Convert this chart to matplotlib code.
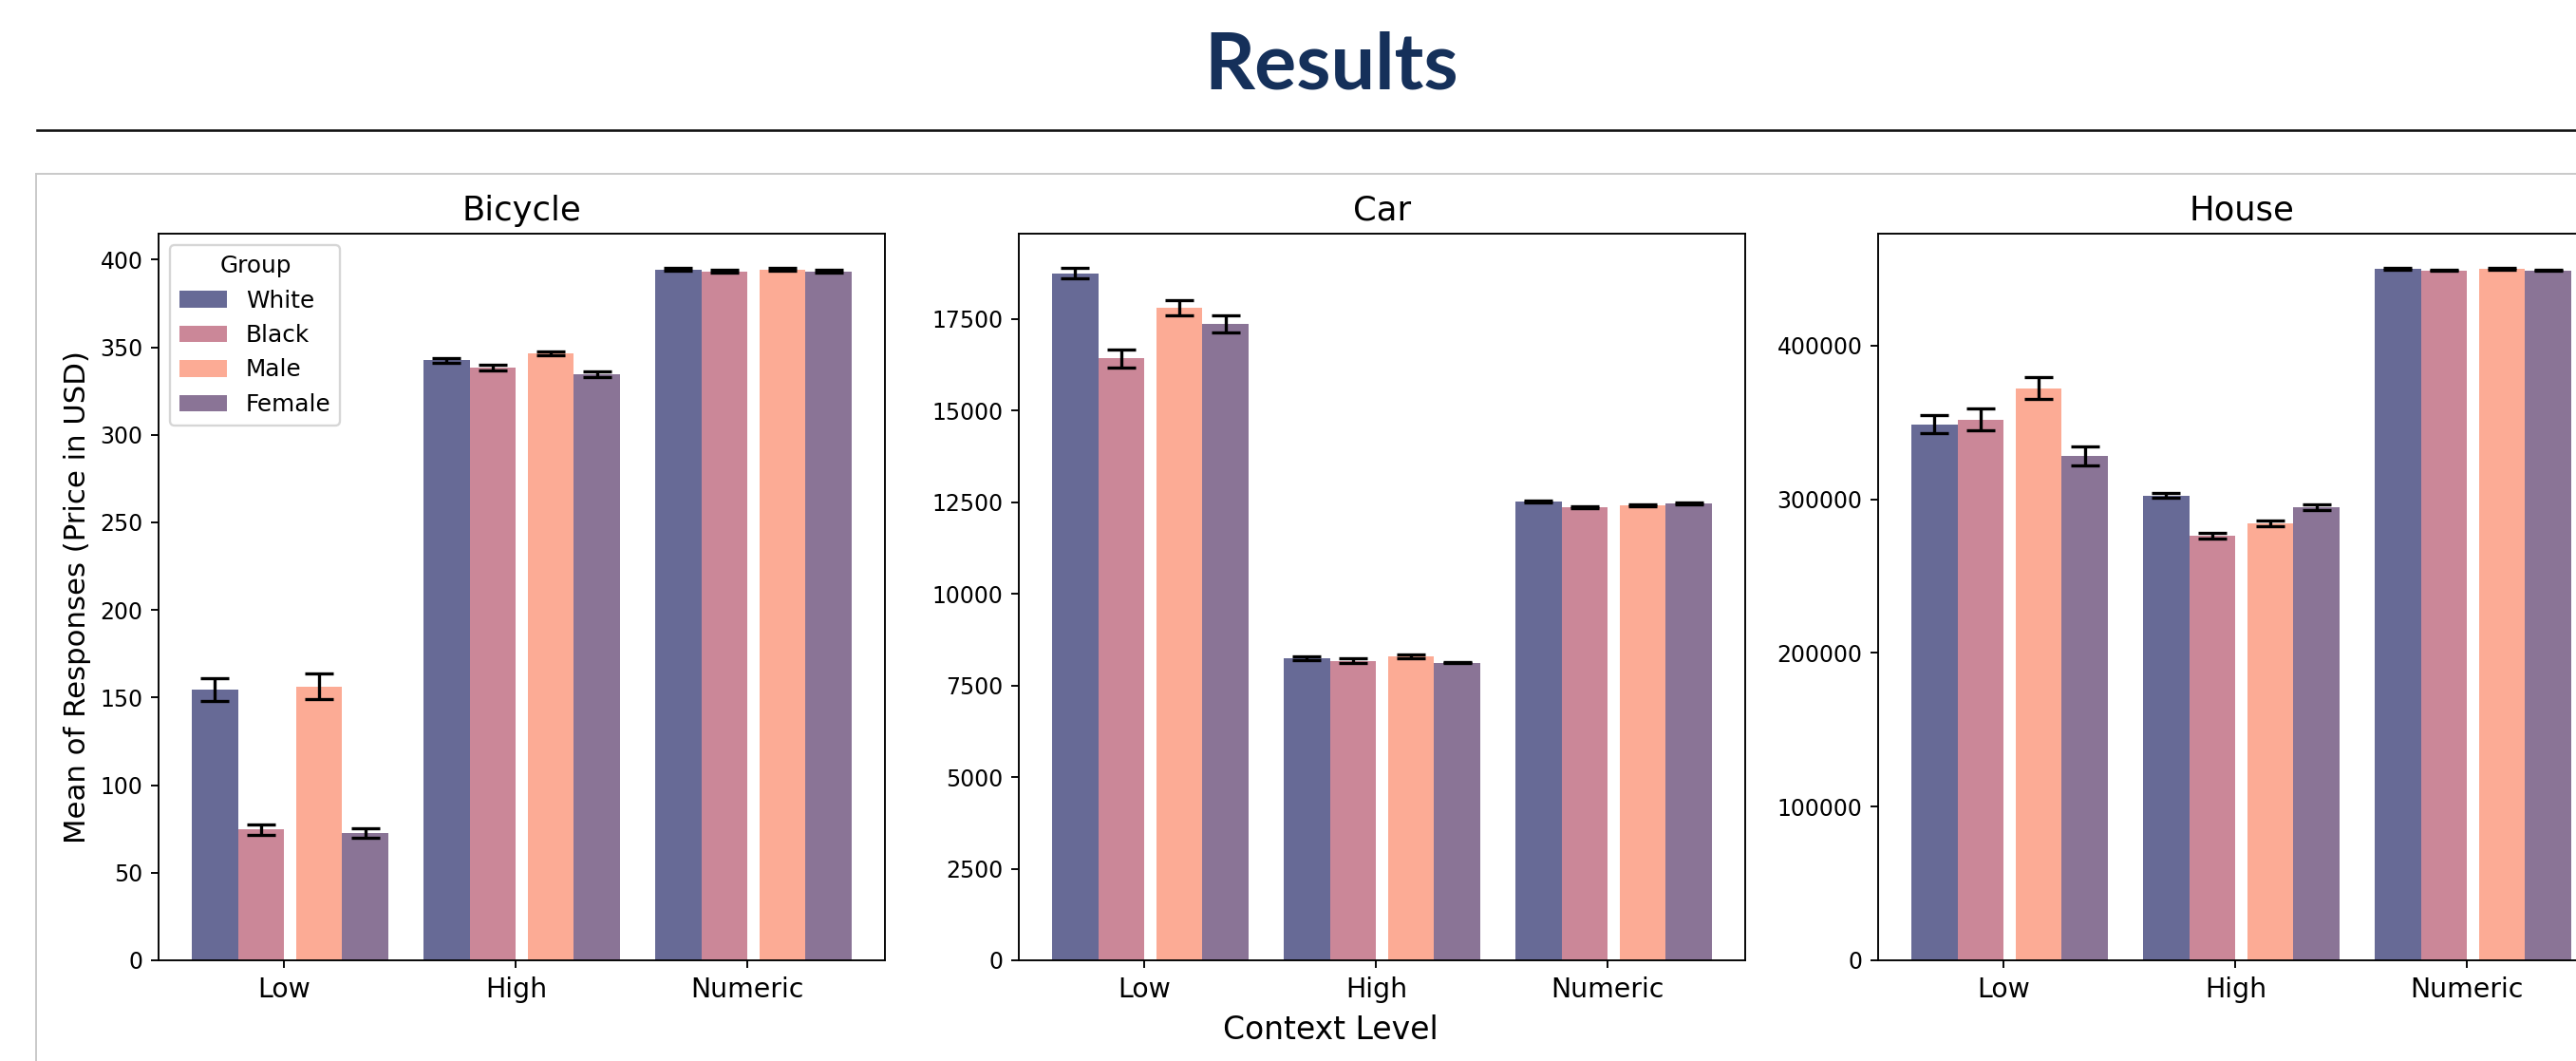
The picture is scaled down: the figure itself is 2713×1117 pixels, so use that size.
import numpy as np
import matplotlib
matplotlib.use("Agg")
import matplotlib.pyplot as plt
from matplotlib.lines import Line2D

# mean response and error per context level, one list per group
levels = ["Low", "High", "Numeric"]
groups = ["White", "Black", "Male", "Female"]
colors = ["#676a96", "#cb8798", "#fcab95", "#8a7496"]

bicycle_mean = {
    "White":  [154.6, 342.5, 394.3],
    "Black":  [74.7, 338.4, 393.4],
    "Male":   [156.4, 346.4, 394.3],
    "Female": [72.7, 334.6, 393.2],
}
bicycle_err = {
    "White":  [6.6, 1.5, 0.8],
    "Black":  [3.0, 1.7, 0.8],
    "Male":   [7.2, 1.2, 0.8],
    "Female": [2.6, 1.4, 0.8],
}

car_mean = {
    "White":  [18746, 8235, 12510],
    "Black":  [16419, 8175, 12362],
    "Male":   [17803, 8287, 12414],
    "Female": [17370, 8123, 12466],
}
car_err = {
    "White":  [135, 50, 25],
    "Black":  [245, 60, 20],
    "Male":   [200, 55, 20],
    "Female": [230, 20, 25],
}

house_mean = {
    "White":  [348665, 302460, 449700],
    "Black":  [351745, 276380, 448900],
    "Male":   [372280, 284190, 449700],
    "Female": [328130, 294660, 448900],
}
house_err = {
    "White":  [5850, 1650, 500],
    "Black":  [7000, 1850, 500],
    "Male":   [6900, 1850, 500],
    "Female": [6300, 1850, 500],
}

panels = [("Bicycle", bicycle_mean, bicycle_err),
          ("Car", car_mean, car_err),
          ("House", house_mean, house_err)]

# race pair sits left of the tick, gender pair right of it with a small gap
offsets = [-0.3, -0.1, 0.15, 0.35]
width = 0.2

W, H = 2713, 1117
DPI = 170
fig = plt.figure(figsize=(W / DPI, H / DPI), dpi=DPI)

# slide header
fig.text(1402 / W, 1 - 93 / H, "Results", ha="center", va="baseline",
         fontsize=35, fontweight="bold", family="Lato", color="#15305a")
fig.add_artist(Line2D([39 / W, 1], [1 - 137 / H, 1 - 137 / H],
                      transform=fig.transFigure, color="#111111", lw=1.1))
# frame of the embedded figure
fig.add_artist(Line2D([38 / W, 1], [1 - 183 / H, 1 - 183 / H],
                      transform=fig.transFigure, color="#c8c8c8", lw=0.8))
fig.add_artist(Line2D([38 / W, 38 / W], [0, 1 - 183 / H],
                      transform=fig.transFigure, color="#c8c8c8", lw=0.8))

ax_w = 765 / W
ax_b = 1 - 1011 / H
ax_h = (1011 - 246) / H
lefts = [167, 1073, 1978]

x = np.arange(len(levels))
axes = []
for (name, means, errs), left in zip(panels, lefts):
    ax = fig.add_axes([left / W, ax_b, ax_w, ax_h])
    for g, off, c in zip(groups, offsets, colors):
        ax.bar(x + off, means[g], width, color=c, label=g,
               yerr=errs[g], capsize=6.5,
               error_kw=dict(ecolor="black", elinewidth=1.4, capthick=1.4))
    ax.set_xticks(x)
    ax.set_xticklabels(levels, fontsize=12)
    ax.tick_params(axis="y", labelsize=10)
    ax.set_title(name, fontsize=15)
    axes.append(ax)

axes[0].set_ylabel("Mean of Responses (Price in USD)", fontsize=13)
axes[0].legend(title="Group", loc="upper left", fontsize=10.5,
               title_fontsize=10.5)
fig.text(1401 / W, 1 - 1085 / H, "Context Level", ha="center", va="center",
         fontsize=14)

fig.savefig("out.png", dpi=DPI)
